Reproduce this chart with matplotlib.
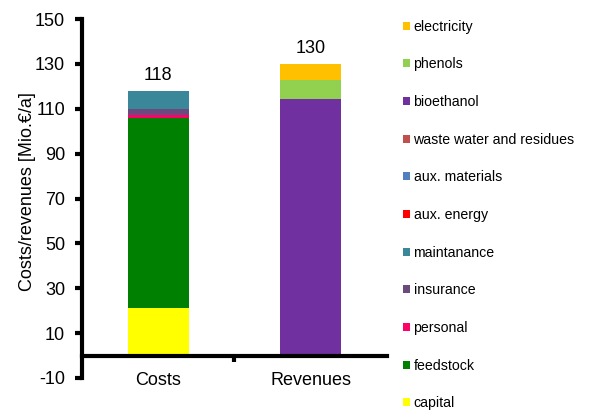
import matplotlib
matplotlib.use("Agg")
import matplotlib.pyplot as plt
from matplotlib.patches import Patch
import numpy as np

plt.rcParams['font.family'] = ['Liberation Sans', 'DejaVu Sans']
plt.rcParams['axes.unicode_minus'] = False

categories = ["Costs", "Revenues"]

# stacked from bottom to top
series_names = ["capital", "feedstock", "personal", "insurance", "maintanance",
                "aux. energy", "aux. materials", "waste water and residues",
                "bioethanol", "phenols", "electricity"]
series_colors = ["#FFFF00", "#008000", "#FF0066", "#6B4A7E", "#3A8799",
                 "#FF0000", "#4F81BD", "#C0504D",
                 "#7030A0", "#92D050", "#FFC000"]
capital = [21.2, 0.0]
feedstock = [84.7, 0.0]
personal = [1.5, 0.0]
insurance = [2.7, 0.0]
maintanance = [7.9, 0.0]
aux_energy = [0.0, 0.0]
aux_materials = [0.0, 0.0]
waste_water = [0.0, 0.0]
bioethanol = [0.0, 114.2]
phenols = [0.0, 8.8]
electricity = [0.0, 7.0]

series_values = [capital, feedstock, personal, insurance, maintanance,
                 aux_energy, aux_materials, waste_water,
                 bioethanol, phenols, electricity]

yticks = [-10, 10, 30, 50, 70, 90, 110, 130, 150]

fig = plt.figure(figsize=(5.89, 4.18), dpi=100)
ax = fig.add_axes([0.139, 0.0957, 0.518, 0.8588])

x = np.arange(len(categories))
bottom = np.zeros(len(categories))
for name, vals, col in zip(series_names, series_values, series_colors):
    vals = np.array(vals)
    ax.bar(x, vals, width=0.4, bottom=bottom, color=col, label=name,
           linewidth=0)
    bottom += vals

for xi, tot in zip(x, bottom):
    ax.text(xi, tot + 3, f"{tot:.0f}", ha="center", va="bottom", fontsize=13)

ax.set_xlim(-0.5, 1.5)
ax.set_ylim(-10, 150)
ax.set_yticks(yticks)
ax.set_xticks([0.5])
ax.set_xticklabels([""])
ax.tick_params(axis="y", direction="out", length=5, width=3, labelsize=13, pad=7)
ax.tick_params(axis="x", direction="out", length=4, width=3)
for xi, c in zip(x, categories):
    ax.text(xi, -7.3, c, ha="center", va="top", fontsize=13,
            transform=ax.transData, clip_on=False)

ax.spines["top"].set_visible(False)
ax.spines["right"].set_visible(False)
ax.spines["left"].set_linewidth(3)
ax.spines["bottom"].set_linewidth(3)
ax.spines["bottom"].set_position(("data", 0))
ax.spines["left"].set_bounds(-10, 150)

ax.set_ylabel("Costs/revenues [Mio.€/a]", fontsize=13)
ax.yaxis.set_label_coords(-0.15, 0.52)

handles = [Patch(facecolor=c, edgecolor="none", label=n)
           for n, c in zip(series_names, series_colors)][::-1]
fig.legend(handles=handles, loc="upper left", bbox_to_anchor=(0.684, 0.953),
           frameon=False, fontsize=10.2, handlelength=0.5, handleheight=0.5,
           handletextpad=0.25, labelspacing=1.67, borderaxespad=0, borderpad=0)

fig.savefig("out.png", dpi=100)
